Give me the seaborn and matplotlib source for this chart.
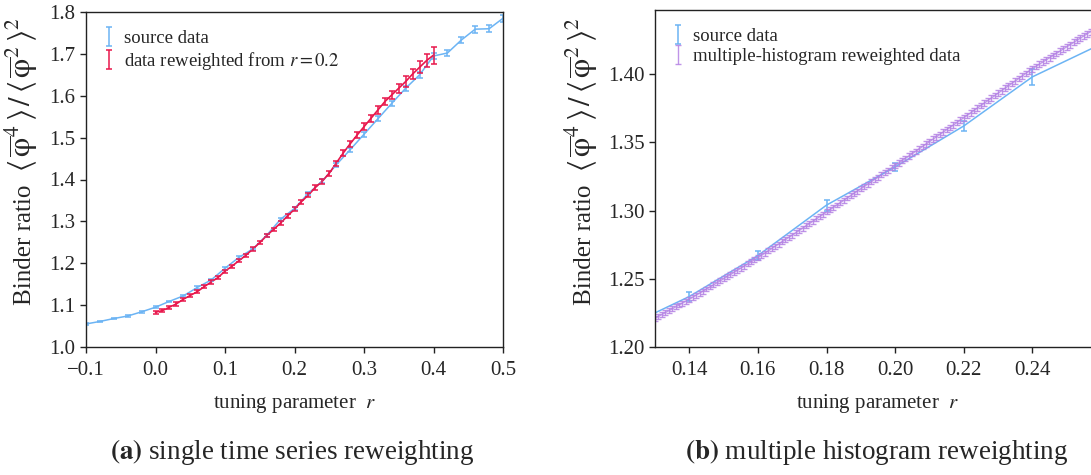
import numpy as np
import pandas as pd
import matplotlib
matplotlib.use("Agg")
import matplotlib.pyplot as plt
import seaborn as sns

# ---------------- data ----------------
# panel (a): source data
src_r = [-0.10, -0.08, -0.06, -0.04, -0.02, 0.00, 0.02, 0.04, 0.06, 0.08,
         0.10, 0.12, 0.14, 0.16, 0.18, 0.20, 0.22, 0.24, 0.26, 0.28,
         0.30, 0.32, 0.34, 0.36, 0.38, 0.40, 0.42, 0.44, 0.46, 0.48, 0.50]
src_val = [1.055, 1.061, 1.068, 1.074, 1.084, 1.095, 1.109, 1.122, 1.142, 1.160,
           1.188, 1.214, 1.234, 1.267, 1.305, 1.331, 1.367, 1.396, 1.435, 1.471,
           1.508, 1.545, 1.582, 1.618, 1.650, 1.695, 1.702, 1.733, 1.759, 1.760, 1.785]
src_err = [0.002, 0.002, 0.002, 0.002, 0.002, 0.002, 0.002, 0.002, 0.003, 0.003,
           0.003, 0.003, 0.003, 0.004, 0.004, 0.004, 0.004, 0.005, 0.005, 0.005,
           0.006, 0.006, 0.006, 0.006, 0.007, 0.007, 0.007, 0.008, 0.008, 0.008, 0.009]

# panel (a): reweighted from r = 0.2
rw_r = [0.00, 0.01, 0.02, 0.03, 0.04, 0.05, 0.06, 0.07, 0.08, 0.09,
        0.10, 0.11, 0.12, 0.13, 0.14, 0.15, 0.16, 0.17, 0.18, 0.19,
        0.20, 0.21, 0.22, 0.23, 0.24, 0.25, 0.26, 0.27, 0.28, 0.29,
        0.30, 0.31, 0.32, 0.33, 0.34, 0.35, 0.36, 0.37, 0.38, 0.39, 0.40]
rw_val = [1.083, 1.087, 1.095, 1.103, 1.114, 1.123, 1.132, 1.144, 1.155, 1.166,
          1.181, 1.193, 1.206, 1.219, 1.234, 1.249, 1.266, 1.281, 1.296, 1.313,
          1.329, 1.347, 1.363, 1.381, 1.396, 1.415, 1.439, 1.463, 1.485, 1.506,
          1.526, 1.546, 1.566, 1.586, 1.602, 1.618, 1.634, 1.652, 1.668, 1.684, 1.697]
rw_err = [0.004, 0.004, 0.004, 0.004, 0.004, 0.004, 0.004, 0.004, 0.004, 0.004,
          0.004, 0.004, 0.004, 0.004, 0.004, 0.004, 0.004, 0.004, 0.004, 0.004,
          0.005, 0.005, 0.005, 0.005, 0.006, 0.006, 0.006, 0.007, 0.007, 0.007,
          0.008, 0.008, 0.009, 0.009, 0.010, 0.011, 0.012, 0.013, 0.014, 0.016, 0.020]

# panel (b): source data
srcb_r = [0.12, 0.14, 0.16, 0.18, 0.20, 0.22, 0.24, 0.26]
srcb_val = [1.213, 1.237, 1.267, 1.304, 1.332, 1.362, 1.398, 1.422]
srcb_err = [0.003, 0.003, 0.003, 0.004, 0.003, 0.004, 0.006, 0.006]

# panel (b): multiple-histogram reweighted data, r = 0.130 ... 0.260
mh_r = [round(0.130 + 0.001 * i, 3) for i in range(131)]
mh_val = [
    1.2210, 1.2224, 1.2238, 1.2252, 1.2266, 1.2280, 1.2294, 1.2308, 1.2322, 1.2336,
    1.2350, 1.2365, 1.2380, 1.2395, 1.2410, 1.2425, 1.2440, 1.2455, 1.2470, 1.2485,
    1.2500, 1.2516, 1.2531, 1.2547, 1.2562, 1.2578, 1.2593, 1.2609, 1.2624, 1.2640,
    1.2655, 1.2672, 1.2688, 1.2705, 1.2721, 1.2738, 1.2754, 1.2771, 1.2787, 1.2804,
    1.2820, 1.2837, 1.2854, 1.2871, 1.2888, 1.2905, 1.2922, 1.2939, 1.2956, 1.2973,
    1.2990, 1.3007, 1.3024, 1.3041, 1.3058, 1.3075, 1.3092, 1.3109, 1.3126, 1.3143,
    1.3160, 1.3177, 1.3194, 1.3211, 1.3228, 1.3245, 1.3262, 1.3279, 1.3296, 1.3313,
    1.3330, 1.3348, 1.3365, 1.3383, 1.3400, 1.3418, 1.3435, 1.3453, 1.3470, 1.3488,
    1.3505, 1.3523, 1.3540, 1.3558, 1.3575, 1.3593, 1.3610, 1.3628, 1.3645, 1.3663,
    1.3680, 1.3698, 1.3716, 1.3734, 1.3752, 1.3770, 1.3788, 1.3806, 1.3824, 1.3842,
    1.3860, 1.3878, 1.3896, 1.3914, 1.3932, 1.3950, 1.3968, 1.3986, 1.4004, 1.4022,
    1.4040, 1.4056, 1.4072, 1.4088, 1.4104, 1.4120, 1.4136, 1.4152, 1.4168, 1.4184,
    1.4200, 1.4216, 1.4232, 1.4248, 1.4264, 1.4280, 1.4296, 1.4312, 1.4328, 1.4344,
    1.4360]
mh_err = [
    0.0018, 0.0018, 0.0018, 0.0018, 0.0018, 0.0018, 0.0018, 0.0018, 0.0018, 0.0018,
    0.0018, 0.0018, 0.0018, 0.0018, 0.0018, 0.0018, 0.0018, 0.0018, 0.0018, 0.0018,
    0.0018, 0.0018, 0.0018, 0.0018, 0.0018, 0.0018, 0.0018, 0.0018, 0.0018, 0.0018,
    0.0018, 0.0018, 0.0018, 0.0018, 0.0018, 0.0018, 0.0018, 0.0018, 0.0018, 0.0018,
    0.0018, 0.0018, 0.0018, 0.0018, 0.0018, 0.0018, 0.0018, 0.0018, 0.0018, 0.0018,
    0.0018, 0.0018, 0.0018, 0.0018, 0.0018, 0.0018, 0.0018, 0.0018, 0.0018, 0.0018,
    0.0019, 0.0019, 0.0019, 0.0019, 0.0019, 0.0019, 0.0019, 0.0019, 0.0019, 0.0019,
    0.0019, 0.0019, 0.0019, 0.0019, 0.0019, 0.0019, 0.0019, 0.0019, 0.0019, 0.0019,
    0.0020, 0.0020, 0.0020, 0.0020, 0.0020, 0.0020, 0.0020, 0.0020, 0.0020, 0.0020,
    0.0020, 0.0020, 0.0020, 0.0020, 0.0020, 0.0020, 0.0020, 0.0020, 0.0020, 0.0020,
    0.0021, 0.0021, 0.0021, 0.0021, 0.0021, 0.0021, 0.0021, 0.0021, 0.0021, 0.0021,
    0.0021, 0.0021, 0.0021, 0.0021, 0.0021, 0.0021, 0.0021, 0.0021, 0.0021, 0.0021,
    0.0022, 0.0022, 0.0022, 0.0022, 0.0022, 0.0022, 0.0022, 0.0022, 0.0022, 0.0022,
    0.0022]

xticks_a = [-0.1, 0.0, 0.1, 0.2, 0.3, 0.4, 0.5]
yticks_a = [1.0, 1.1, 1.2, 1.3, 1.4, 1.5, 1.6, 1.7, 1.8]
xticks_b = [0.14, 0.16, 0.18, 0.20, 0.22, 0.24]
yticks_b = [1.20, 1.25, 1.30, 1.35, 1.40]

# ---------------- style ----------------
sns.set_theme(style="ticks")
plt.rcParams["font.family"] = ["Liberation Serif", "DejaVu Serif"]
plt.rcParams["mathtext.fontset"] = "stix"
plt.rcParams["axes.edgecolor"] = "#222222"
plt.rcParams["axes.linewidth"] = 1.0

BLUE = "#6cb4f4"
RED = "#e8174c"
PURPLE = "#b482e4"

W, H = 1091, 475
fig = plt.figure(figsize=(W / 100, H / 100), dpi=100)

ax_a = fig.add_axes([86 / W, (H - 347) / H, 417 / W, 335 / H])
ax_b = fig.add_axes([655 / W, (H - 347) / H, 446 / W, 337 / H])

ylabel_text = "Binder ratio"
ylabel_math = (r"$\langle\,\overline{\mathrm{\varphi}}^{4}\,\rangle\,/\,"
               r"\langle\,\overline{\mathrm{\varphi}}^{2}\,\rangle^{2}$")
xlabel = r"tuning parameter  $r$"

# ---- panel a ----
df_src = pd.DataFrame({"r": src_r, "v": src_val})
df_rw = pd.DataFrame({"r": rw_r, "v": rw_val})
sns.lineplot(data=df_src, x="r", y="v", ax=ax_a, color=BLUE, lw=1.1, legend=False)
sns.lineplot(data=df_rw, x="r", y="v", ax=ax_a, color=RED, lw=1.2, legend=False)
eb1 = ax_a.errorbar(src_r, src_val, yerr=src_err, fmt="none", ecolor=BLUE,
                    elinewidth=1.1, capsize=2.5, capthick=1.1, label="source data")
eb2 = ax_a.errorbar(rw_r, rw_val, yerr=rw_err, fmt="none", ecolor=RED,
                    elinewidth=1.1, capsize=2.5, capthick=1.1,
                    label=r"data reweighted from $r = 0.2$")
ax_a.set_xlim(-0.1, 0.5)
ax_a.set_ylim(1.0, 1.8)
ax_a.set_xticks(xticks_a)
ax_a.set_xticklabels(["\u22120.1", "0.0", "0.1", "0.2", "0.3", "0.4", "0.5"])
ax_a.set_yticks(yticks_a)
ax_a.set_yticklabels([f"{t:.1f}" for t in yticks_a])
ax_a.legend(handles=[eb1, eb2], loc="upper left", frameon=False, fontsize=13.5,
            handlelength=0.5, handletextpad=0.6, borderaxespad=0.55, labelspacing=0.15)

# ---- panel b ----
df_srcb = pd.DataFrame({"r": srcb_r, "v": srcb_val})
df_mh = pd.DataFrame({"r": mh_r, "v": mh_val})
sns.lineplot(data=df_mh, x="r", y="v", ax=ax_b, color=PURPLE, lw=1.0, alpha=0.8, legend=False)
sns.lineplot(data=df_srcb, x="r", y="v", ax=ax_b, color=BLUE, lw=1.1, legend=False)
eb3 = ax_b.errorbar(srcb_r, srcb_val, yerr=srcb_err, fmt="none", ecolor=BLUE,
                    elinewidth=1.1, capsize=2.5, capthick=1.1, label="source data")
eb4 = ax_b.errorbar(mh_r, mh_val, yerr=mh_err, fmt="none", ecolor=PURPLE,
                    elinewidth=1.0, capsize=2.3, capthick=1.0, alpha=0.85,
                    label="multiple-histogram reweighted data")
ax_b.set_xlim(0.13, 0.26)
ax_b.set_ylim(1.20, 1.447)
ax_b.set_xticks(xticks_b)
ax_b.set_xticklabels([f"{t:.2f}" for t in xticks_b])
ax_b.set_yticks(yticks_b)
ax_b.set_yticklabels([f"{t:.2f}" for t in yticks_b])
ax_b.legend(handles=[eb3, eb4], loc="upper left", frameon=False, fontsize=13.5,
            handlelength=0.5, handletextpad=0.6, borderaxespad=0.55, labelspacing=0.15)

for ax in (ax_a, ax_b):
    ax.set_xlabel(xlabel, fontsize=15, labelpad=9)
    ax.set_ylabel("")
    ax.tick_params(axis="both", which="major", labelsize=15, direction="out",
                   length=4, width=1.0, color="#222222", top=False, right=False)
    ax.tick_params(axis="x", pad=6)
    for s in ax.spines.values():
        s.set_visible(True)
        s.set_color("#222222")

# ---- y labels (rotated, two parts so the formula can be larger) ----
for xb in (31, 591):
    fig.text(xb / W, 1 - 305 / H, ylabel_text, rotation=90, rotation_mode="anchor",
             ha="left", va="baseline", fontsize=18)
    fig.text(xb / W, 1 - 172 / H, ylabel_math, rotation=90, rotation_mode="anchor",
             ha="left", va="baseline", fontsize=22)

# ---- captions ----
fig.text(292 / W, 1 - 452 / H, r"$\mathbf{(a)}$ single time series reweighting",
         ha="center", va="center", fontsize=19.5)
fig.text(877 / W, 1 - 452 / H, r"$\mathbf{(b)}$ multiple histogram reweighting",
         ha="center", va="center", fontsize=19.5)

fig.savefig("out.png", dpi=100)
